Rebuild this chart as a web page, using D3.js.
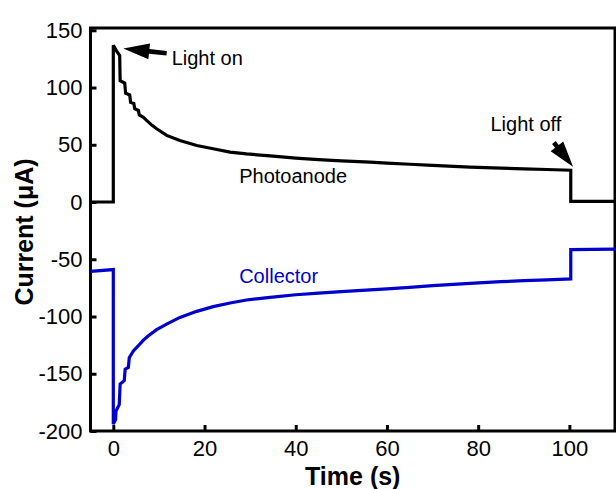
<!DOCTYPE html>
<html>
<head>
<meta charset="utf-8">
<script src="https://cdn.jsdelivr.net/npm/d3@7"></script>
<style>
  body { margin: 0; background: #fff; }
  svg text { font-family: "Liberation Sans", Arial, sans-serif; }
</style>
</head>
<body>
<div id="chart"></div>
<script>
'use strict';

// photoanode current (uA) vs time (s) (step corners early on)
var anodeTime = [-5, 0, 0, 0.7, 1.4, 1.5, 2.5, 2.7, 3.6, 3.8, 4.5, 4.7, 5.5, 5.7, 6.6, 7.3, 8.5, 9.5,
  11.7, 14.6, 18.3, 21.9, 25.6, 29.2, 34.4, 40, 45, 50, 56.3, 60, 65, 70, 78.2, 85, 90, 95, 100.3, 100.3, 110];
var anodeCurrent = [0, 0, 137, 132, 128, 106, 104, 95, 93.5, 87, 86, 81.5, 80, 76, 74, 71.3, 67, 64,
  58.2, 53.8, 49.4, 46.5, 43.6, 42, 40.3, 38.4, 37, 36, 34.8, 34, 33, 32, 30.5, 29.6, 29, 28.4, 27.8, 0.5, 0.5];

// collector current (uA) vs time (s)
var collectorTime = [-5, 0, 0, 0.5, 0.6, 1.3, 1.5, 2.4, 2.6, 3.3, 3.5, 4.4, 5.5, 6.6, 7.7, 9.5,
  11.7, 14.6, 18.3, 21.9, 25.6, 29.2, 34.4, 40, 45, 50, 56.3, 60, 65, 70, 78.2, 85, 90, 95, 100.3, 100.3, 110];
var collectorCurrent = [-60.5, -59, -194, -190, -182.5, -177, -159, -156, -146, -144.5, -136, -130, -125.5, -120.6, -116.8, -111.5,
  -106.6, -100.8, -95.5, -91.4, -88.2, -85.6, -83.3, -81, -79.6, -78.3, -76.8, -75.8, -74.5, -73.1, -71, -69.6, -68.7, -68, -67.2, -41.6, -41.2];

var xTicks = [0, 20, 40, 60, 80, 100];
var yTicks = [-200, -150, -100, -50, 0, 50, 100, 150];

var width = 616, height = 489;
var margin = {top: 28, right: 1, bottom: 58, left: 90.5};
var blue = '#0000cd';

var svg = d3.select('#chart').append('svg')
  .attr('width', width)
  .attr('height', height);

var x = d3.scaleLinear().domain([-5, 110]).range([margin.left, width - margin.right]);
var y = d3.scaleLinear().domain([-200, 152]).range([height - margin.bottom, margin.top]);

// plain hyphen for negatives, like the original
var fmt = function (d) { return String(d); };

// axes (ticks point inward)
svg.append('g')
  .attr('transform', 'translate(0,' + (height - margin.bottom) + ')')
  .call(d3.axisBottom(x).tickValues(xTicks).tickFormat(fmt).tickSizeInner(-6).tickSizeOuter(0).tickPadding(9))
  .call(function (g) { g.select('.domain').remove(); });

svg.append('g')
  .attr('transform', 'translate(' + margin.left + ',0)')
  .call(d3.axisLeft(y).tickValues(yTicks).tickFormat(fmt).tickSizeInner(-6).tickSizeOuter(0).tickPadding(8))
  .call(function (g) { g.select('.domain').remove(); });

svg.selectAll('.tick line').attr('stroke', '#000').attr('stroke-width', 3);
svg.selectAll('.tick text')
  .attr('fill', '#000')
  .style('font-size', '22px');

// frame
svg.append('rect')
  .attr('x', x(-5))
  .attr('y', y(152))
  .attr('width', x(110) - x(-5))
  .attr('height', y(-200) - y(152))
  .attr('fill', 'none')
  .attr('stroke', '#000')
  .attr('stroke-width', 3);

var line = d3.line()
  .x(function (d) { return x(d[0]); })
  .y(function (d) { return y(d[1]); });

svg.append('path')
  .attr('d', line(d3.zip(anodeTime, anodeCurrent)))
  .attr('fill', 'none')
  .attr('stroke', '#000')
  .attr('stroke-width', 3.2)
  .attr('stroke-miterlimit', 2);

svg.append('path')
  .attr('d', line(d3.zip(collectorTime, collectorCurrent)))
  .attr('fill', 'none')
  .attr('stroke', blue)
  .attr('stroke-width', 3.2)
  .attr('stroke-miterlimit', 2);

// labels
function label(t, v, text, color) {
  svg.append('text')
    .attr('x', x(t))
    .attr('y', y(v))
    .attr('fill', color)
    .style('font-size', '20px')
    .text(text);
}
label(12.8, 119.6, 'Light on', '#000');
label(82.7, 62.3, 'Light off', '#000');
label(27.6, 16.9, 'Photoanode', '#000');
label(27.6, -71, 'Collector', blue);

// arrows: tail -> tip, in data coords
function arrow(t0, v0, t1, v1) {
  var x0 = x(t0), y0 = y(v0), x1 = x(t1), y1 = y(v1);
  var len = Math.hypot(x1 - x0, y1 - y0);
  var ux = (x1 - x0) / len, uy = (y1 - y0) / len;
  var px = -uy, py = ux;
  var head = 26, hw = 8, sw = 2.3;
  var bx = x1 - ux * head, by = y1 - uy * head;
  var pts = [
    [x0 + px * sw, y0 + py * sw],
    [bx + px * sw, by + py * sw],
    [bx + px * hw, by + py * hw],
    [x1, y1],
    [bx - px * hw, by - py * hw],
    [bx - px * sw, by - py * sw],
    [x0 - px * sw, y0 - py * sw]
  ];
  svg.append('polygon')
    .attr('points', pts.map(function (p) { return p.join(','); }).join(' '))
    .attr('fill', '#000');
}
arrow(11.7, 130, 2.2, 134);
arrow(96.6, 52, 100.8, 30.8);

// axis titles
svg.append('text')
  .attr('x', (x(-5) + x(110)) / 2)
  .attr('y', 485)
  .attr('text-anchor', 'middle')
  .style('font-size', '25px')
  .style('font-weight', 'bold')
  .text('Time (s)');

svg.append('text')
  .attr('transform', 'translate(33,' + 232 + ') rotate(-90)')
  .attr('text-anchor', 'middle')
  .style('font-size', '25px')
  .style('font-weight', 'bold')
  .text('Current (μA)');
</script>
</body>
</html>
